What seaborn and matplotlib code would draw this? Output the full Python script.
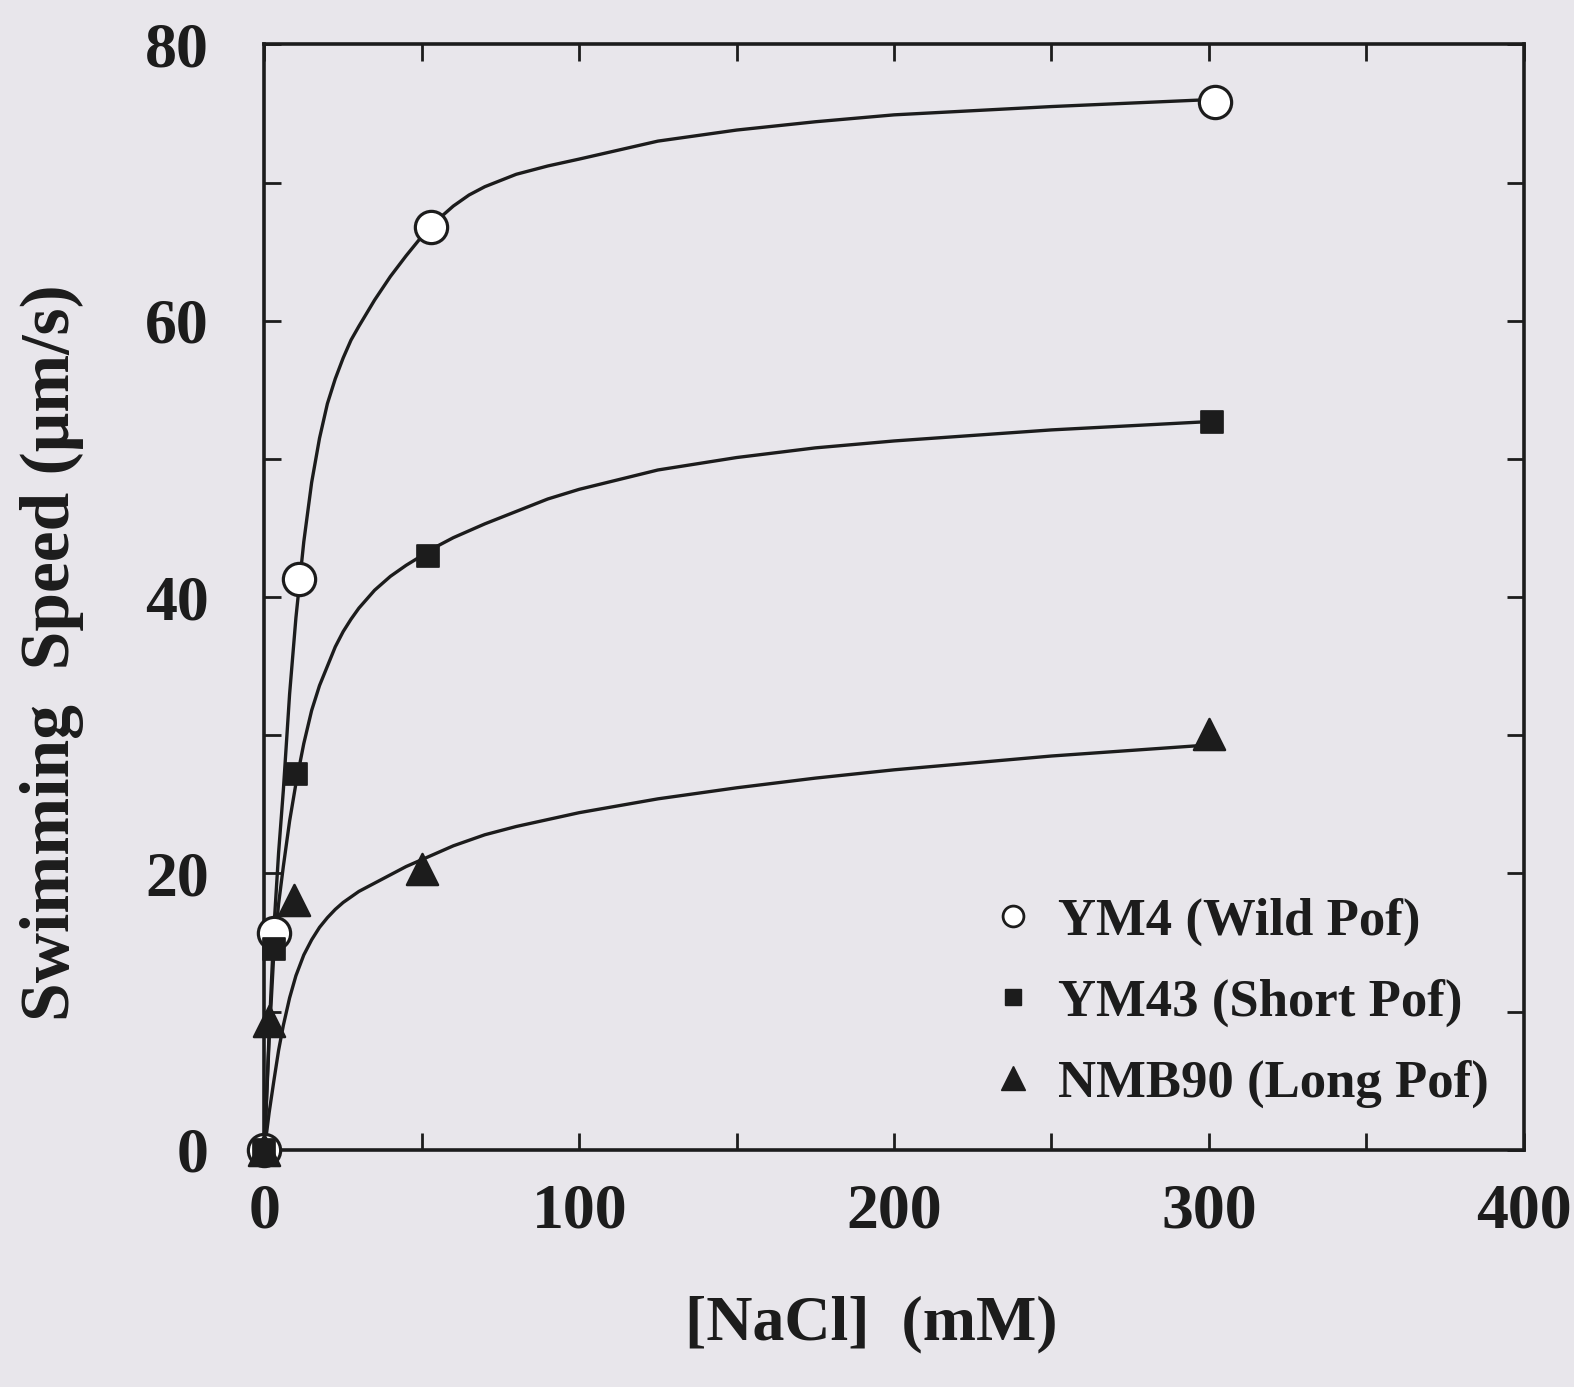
#!/usr/bin/env python3
"""Swimming speed vs NaCl concentration for three Pof strains."""

import matplotlib
matplotlib.use("Agg")
import matplotlib.pyplot as plt
from matplotlib.lines import Line2D
from matplotlib.ticker import MultipleLocator
import pandas as pd
import seaborn as sns

# measured points
ym4_x = [0, 3, 11, 53, 302]
ym4_y = [0, 15.7, 41.3, 66.8, 75.8]
ym43_x = [0, 3, 10, 52, 301]
ym43_y = [0, 14.5, 27.2, 43.0, 52.7]
nmb90_x = [0, 1.5, 9.5, 50, 300]
nmb90_y = [0, 9.3, 18.1, 20.3, 30.1]

# fitted curves
fit_x = [0, 1.5, 3, 4.5, 6, 8, 10, 12.5, 15, 17.5, 20, 22.5, 25, 27.5, 30, 35, 40,
         45, 50, 55, 60, 65, 70, 80, 90, 100, 125, 150, 175, 200, 250, 300]
ym4_fit = [0, 8.5, 16, 21.5, 26, 33, 38.5, 44, 48.3, 51.5, 54, 55.8, 57.3, 58.6,
           59.6, 61.5, 63.2, 64.7, 66.1, 67.3, 68.3, 69.1, 69.7, 70.6, 71.2, 71.7,
           73.0, 73.8, 74.4, 74.9, 75.5, 76.0]
ym43_fit = [0, 8, 14.3, 17.8, 20.5, 23.8, 26.5, 29.4, 31.8, 33.6, 35, 36.4, 37.5,
            38.4, 39.2, 40.5, 41.5, 42.3, 43.0, 43.7, 44.3, 44.8, 45.3, 46.2, 47.1,
            47.8, 49.2, 50.1, 50.8, 51.3, 52.1, 52.7]
nmb90_fit = [0, 2.7, 5, 7.2, 9, 11, 12.6, 14.1, 15.2, 16.1, 16.8, 17.4, 17.9, 18.3,
             18.7, 19.3, 19.9, 20.5, 21.0, 21.5, 22.0, 22.4, 22.8, 23.4, 23.9, 24.4,
             25.4, 26.2, 26.9, 27.5, 28.5, 29.3]

strains = ["YM4 (Wild Pof)", "YM43 (Short Pof)", "NMB90 (Long Pof)"]

bg = "#e8e6eb"
ink = "#1c1c1c"

sns.set_style("ticks")
plt.rcParams["font.family"] = ["Liberation Serif", "DejaVu Serif"]
plt.rcParams["font.weight"] = "bold"

fig = plt.figure(figsize=(15.74, 13.87), dpi=100, facecolor=bg)
ax = fig.add_axes([0.168, 0.171, 0.800, 0.797])
ax.set_facecolor(bg)

for fit in [ym4_fit, ym43_fit, nmb90_fit]:
    df = pd.DataFrame({"x": fit_x, "y": fit})
    sns.lineplot(data=df, x="x", y="y", color=ink, linewidth=2.4, ax=ax,
                 clip_on=False)

pts = [(ym4_x, ym4_y), (ym43_x, ym43_y), (nmb90_x, nmb90_y)]
styles = [dict(marker="o", s=540, facecolor="white", edgecolor=ink, linewidth=2.3),
          dict(marker="s", s=240, color=ink, edgecolor=ink),
          dict(marker="^", s=500, color=ink, edgecolor=ink)]
for (xs, ys), st in zip(pts, styles):
    df = pd.DataFrame({"x": xs, "y": ys})
    sns.scatterplot(data=df, x="x", y="y", ax=ax, zorder=5, clip_on=False, **st)

ax.set_xlim(0, 400)
ax.set_ylim(0, 80)
ax.xaxis.set_major_locator(MultipleLocator(100))
ax.xaxis.set_minor_locator(MultipleLocator(50))
ax.yaxis.set_major_locator(MultipleLocator(20))
ax.yaxis.set_minor_locator(MultipleLocator(10))
ax.tick_params(which="both", direction="in", top=True, right=True,
               length=12, width=2, color=ink)
ax.tick_params(axis="x", labelsize=46, pad=24, colors=ink)
ax.tick_params(axis="y", labelsize=46, pad=40, colors=ink)
for lab in ax.get_xticklabels() + ax.get_yticklabels():
    lab.set_fontweight("bold")
for sp in ax.spines.values():
    sp.set_linewidth(2.6)
    sp.set_color(ink)

ax.set_xlabel("[NaCl]  (mM)", fontsize=46, fontweight="bold", color=ink)
ax.set_ylabel("Swimming  Speed (μm/s)", fontsize=50, fontweight="bold", color=ink)
ax.xaxis.set_label_coords(0.482, -0.132)
ax.yaxis.set_label_coords(-0.143, 0.45)

handles = [Line2D([], [], linestyle="none", marker="o", markersize=15,
                  markerfacecolor="white", markeredgecolor=ink, markeredgewidth=2),
           Line2D([], [], linestyle="none", marker="s", markersize=12,
                  color=ink),
           Line2D([], [], linestyle="none", marker="^", markersize=17,
                  color=ink)]
leg = ax.legend(handles, strains, loc="lower right", bbox_to_anchor=(1.01, -0.005),
                frameon=False, fontsize=38, handletextpad=0.3, labelspacing=0.62,
                handlelength=1.1)
for t in leg.get_texts():
    t.set_fontweight("bold")
    t.set_color(ink)

fig.savefig("out.png", dpi=100, facecolor=bg)
